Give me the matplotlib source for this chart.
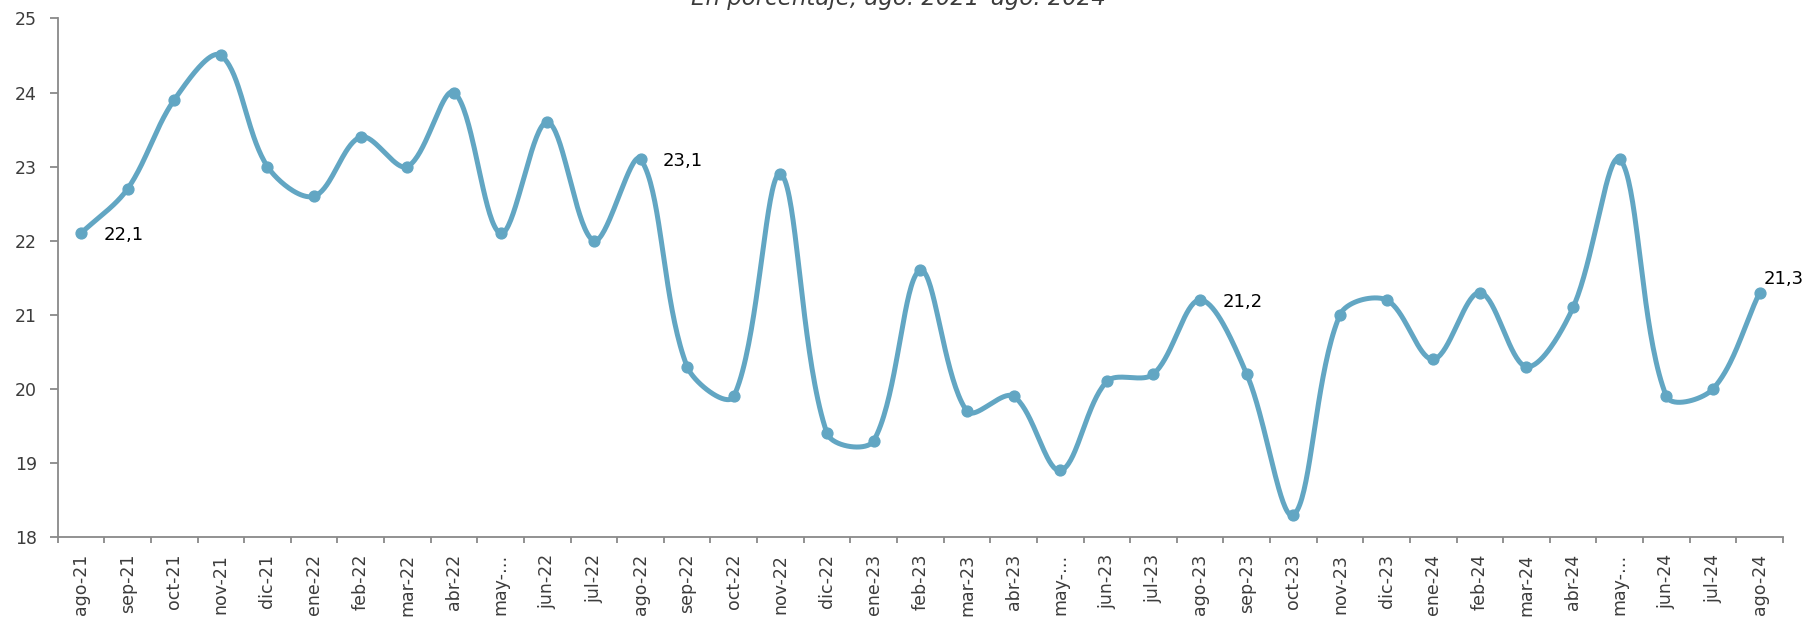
# Importing libraries
import numpy as np
import matplotlib
matplotlib.use('Agg')
import matplotlib.pyplot as plt

# Chart data
months = ['ago-21', 'sep-21', 'oct-21', 'nov-21', 'dic-21', 'ene-22', 'feb-22', 'mar-22',
          'abr-22', 'may-…', 'jun-22', 'jul-22', 'ago-22', 'sep-22', 'oct-22', 'nov-22',
          'dic-22', 'ene-23', 'feb-23', 'mar-23', 'abr-23', 'may-…', 'jun-23', 'jul-23',
          'ago-23', 'sep-23', 'oct-23', 'nov-23', 'dic-23', 'ene-24', 'feb-24', 'mar-24',
          'abr-24', 'may-…', 'jun-24', 'jul-24', 'ago-24']
values = [22.1, 22.7, 23.9, 24.5, 23.0, 22.6, 23.4, 23.0,
          24.0, 22.1, 23.6, 22.0, 23.1, 20.3, 19.9, 22.9,
          19.4, 19.3, 21.6, 19.7, 19.9, 18.9, 20.1, 20.2,
          21.2, 20.2, 18.3, 21.0, 21.2, 20.4, 21.3, 20.3,
          21.1, 23.1, 19.9, 20.0, 21.3]
labelled = ['ago-21', 'ago-22', 'ago-23', 'ago-24']
yticks = [18, 19, 20, 21, 22, 23, 24, 25]
title = 'En porcentaje, ago. 2021–ago. 2024'

color = '#62a6c3'
axis_gray = '#898989'
text_gray = '#3c3c3c'

plt.rcParams['font.family'] = ['DejaVu Sans']


def smooth_curve(x, y, kx, ky, steps=40):
    '''
    Smoothed line through the points, spreadsheet style: bezier segments whose
    handles follow the neighbours, scaled by the segment lengths on screen
    (kx, ky = pixels per data unit)
    '''
    px = np.asarray(x, dtype=float) * kx
    py = np.asarray(y, dtype=float) * ky
    P = np.column_stack([px, py])
    n = len(P)
    seg = np.hypot(np.diff(px), np.diff(py))
    out_h = np.zeros_like(P)
    in_h = np.zeros_like(P)
    for i in range(n):
        if i == 0:
            out_h[i] = (P[1] - P[0]) / 3
        elif i == n - 1:
            in_h[i] = (P[-1] - P[-2]) / 3
        else:
            T = P[i + 1] - P[i - 1]
            d1, d2 = seg[i - 1], seg[i]
            out_h[i] = T * d2 / (d1 + d2) / 3
            in_h[i] = T * d1 / (d1 + d2) / 3
    t = np.linspace(0, 1, steps)[:, None]
    pts = []
    for i in range(n - 1):
        p1 = P[i]
        p2 = P[i + 1]
        c1 = p1 + out_h[i]
        c2 = p2 - in_h[i + 1]
        b = (1 - t) ** 3 * p1 + 3 * (1 - t) ** 2 * t * c1 + 3 * (1 - t) * t ** 2 * c2 + t ** 3 * p2
        pts.append(b)
    pts = np.vstack(pts)
    return pts[:, 0] / kx, pts[:, 1] / ky


fig = plt.figure(figsize=(18.07, 6.26), dpi=100)
ax = fig.add_axes([0.0319, 0.142, 0.9548, 0.8286])

ax.set_xlim(-0.5, len(months) - 0.5)
ax.set_ylim(18, 25)

# pixels per unit, to smooth in screen space
kx = 0.9548 * 1807 / len(months)
ky = 0.8286 * 626 / (25 - 18)

x = np.arange(len(months))
sx, sy = smooth_curve(x, values, kx, ky)
ax.plot(sx, sy, color=color, linewidth=3.6, solid_capstyle='round', zorder=3)
ax.plot(x, values, 'o', color=color, markersize=7.8, zorder=4)

# data labels
for m in labelled:
    i = months.index(m)
    v = values[i]
    txt = ('%.1f' % v).replace('.', ',')
    if i == len(months) - 1:
        ax.annotate(txt, (i, v), xytext=(3, 3), textcoords='offset points',
                    fontsize=13, color='black', ha='left', va='bottom')
    else:
        ax.annotate(txt, (i, v), xytext=(16, 0), textcoords='offset points',
                    fontsize=13, color='black', ha='left', va='center_baseline')

ax.set_yticks(yticks)
ax.set_yticklabels([str(v) for v in yticks])

ax.set_xticks(x)
ax.set_xticklabels(months, rotation=90)
ax.set_xticks(np.arange(-0.5, len(months)), minor=True)
ax.tick_params(axis='x', which='major', length=0, pad=12, labelsize=12.5, labelcolor=text_gray)
ax.tick_params(axis='x', which='minor', length=4, width=1.3, color=axis_gray, direction='out')
ax.tick_params(axis='y', length=5.8, width=1.3, color=axis_gray, pad=9, labelsize=12.5,
               labelcolor=text_gray)

for s in ['top', 'right']:
    ax.spines[s].set_visible(False)
for s in ['left', 'bottom']:
    ax.spines[s].set_color(axis_gray)
    ax.spines[s].set_linewidth(1.3)

# subtitle, cut at the top like the original
fig.text(0.497, 0.992, title, ha='center', va='baseline', fontsize=16.5,
         style='italic', color=text_gray)

fig.savefig('out.png', dpi=100)
